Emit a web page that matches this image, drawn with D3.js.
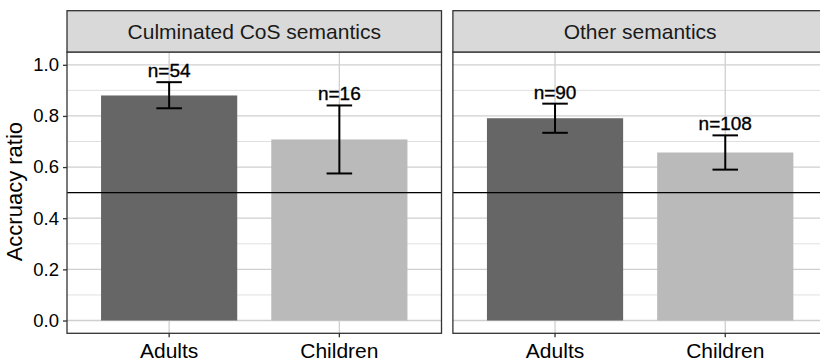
<!DOCTYPE html>
<html>
<head>
<meta charset="utf-8">
<script src="https://cdn.jsdelivr.net/npm/d3@7"></script>
<style>
  body { margin: 0; background: #fff; }
  text { font-family: "Liberation Sans", Arial, sans-serif; }
</style>
</head>
<body>
<div id="chart"></div>
<script>
const facets = ['Culminated CoS semantics', 'Other semantics'];
const groups = ['Adults', 'Children'];
const means  = [[0.880, 0.708], [0.791, 0.657]];
const upper  = [[0.932, 0.841], [0.848, 0.724]];
const lower  = [[0.830, 0.575], [0.734, 0.590]];
const counts = [[54, 16], [90, 108]];
const yTicks = [0, 0.2, 0.4, 0.6, 0.8, 1.0];
const yMinor = [0.1, 0.3, 0.5, 0.7, 0.9];
const refLine = 0.5;

const width = 820, height = 363;
const panelW = 374.5, panelGap = 11.4;
const panelLeft = 67, stripTop = 10.7, stripH = 41.3;
const panelTop = stripTop + stripH, panelBottom = 333.3;
const fills = { Adults: '#666666', Children: '#bababa' };

const svg = d3.select('#chart').append('svg')
  .attr('width', width)
  .attr('height', height);

const y = d3.scaleLinear()
  .domain([-0.05, 1.05])
  .range([panelBottom, panelTop]);

facets.forEach((facet, f) => {
  const x0 = panelLeft + f * (panelW + panelGap);
  const x = d3.scaleBand()
    .domain(groups)
    .range([x0, x0 + panelW])
    .padding(0.2);

  const g = svg.append('g');

  // minor + major grid
  g.selectAll('.minor')
    .data(yMinor)
    .enter().append('line')
    .attr('x1', x0).attr('x2', x0 + panelW)
    .attr('y1', d => y(d)).attr('y2', d => y(d))
    .attr('stroke', '#dcdcdc')
    .attr('stroke-width', 0.9);

  g.selectAll('.major')
    .data(yTicks)
    .enter().append('line')
    .attr('x1', x0).attr('x2', x0 + panelW)
    .attr('y1', d => y(d)).attr('y2', d => y(d))
    .attr('stroke', '#cfcfcf')
    .attr('stroke-width', 1.3);

  g.selectAll('.vmajor')
    .data(groups)
    .enter().append('line')
    .attr('x1', d => x(d) + x.bandwidth() / 2)
    .attr('x2', d => x(d) + x.bandwidth() / 2)
    .attr('y1', panelTop).attr('y2', panelBottom)
    .attr('stroke', '#cfcfcf')
    .attr('stroke-width', 1.3);

  // bars
  g.selectAll('.bar')
    .data(groups)
    .enter().append('rect')
    .attr('x', d => x(d))
    .attr('width', x.bandwidth())
    .attr('y', (d, i) => y(means[f][i]))
    .attr('height', (d, i) => y(0) - y(means[f][i]))
    .attr('fill', d => fills[d]);

  // reference line
  g.append('line')
    .attr('x1', x0).attr('x2', x0 + panelW)
    .attr('y1', y(refLine)).attr('y2', y(refLine))
    .attr('stroke', '#000')
    .attr('stroke-width', 1.4);

  // error bars
  const capW = x.step() * 0.15;
  groups.forEach((grp, i) => {
    const cx = x(grp) + x.bandwidth() / 2;
    const eb = g.append('g').attr('stroke', '#000').attr('stroke-width', 2);
    eb.append('line')
      .attr('x1', cx).attr('x2', cx)
      .attr('y1', y(upper[f][i])).attr('y2', y(lower[f][i]));
    [upper[f][i], lower[f][i]].forEach(v => {
      eb.append('line')
        .attr('x1', cx - capW / 2).attr('x2', cx + capW / 2)
        .attr('y1', y(v)).attr('y2', y(v));
    });

    g.append('text')
      .attr('x', cx)
      .attr('y', y(upper[f][i]) - 5)
      .attr('text-anchor', 'middle')
      .attr('font-size', '19px')
      .attr('fill', '#000')
      .attr('stroke', '#000')
      .attr('stroke-width', 0.35)
      .text(`n=${counts[f][i]}`);
  });

  // panel border
  g.append('rect')
    .attr('x', x0).attr('y', panelTop)
    .attr('width', panelW).attr('height', panelBottom - panelTop)
    .attr('fill', 'none')
    .attr('stroke', '#333333')
    .attr('stroke-width', 1.3);

  // strip
  g.append('rect')
    .attr('x', x0).attr('y', stripTop)
    .attr('width', panelW).attr('height', stripH)
    .attr('fill', '#d9d9d9')
    .attr('stroke', '#333333')
    .attr('stroke-width', 1.3);

  g.append('text')
    .attr('x', x0 + panelW / 2)
    .attr('y', stripTop + stripH / 2 + 7.5)
    .attr('text-anchor', 'middle')
    .attr('font-size', '21px')
    .attr('fill', '#1a1a1a')
    .text(facet);

  // x axis
  const xAxis = g.append('g')
    .attr('transform', `translate(0,${panelBottom})`)
    .call(d3.axisBottom(x).tickSize(4).tickPadding(6));
  xAxis.select('.domain').remove();
  xAxis.selectAll('line').attr('stroke', '#333333').attr('stroke-width', 1.3);
  xAxis.selectAll('text')
    .attr('font-size', '21px')
    .attr('fill', '#000')
    .attr('font-family', '"Liberation Sans", Arial, sans-serif');

  if (f === 0) {
    const yAxis = g.append('g')
      .attr('transform', `translate(${x0},0)`)
      .call(d3.axisLeft(y).tickValues(yTicks).tickFormat(d3.format('.1f')).tickSize(4).tickPadding(4));
    yAxis.select('.domain').remove();
    yAxis.selectAll('line').attr('stroke', '#333333').attr('stroke-width', 1.3);
    yAxis.selectAll('text')
      .attr('font-size', '18.5px')
      .attr('fill', '#000')
      .attr('font-family', '"Liberation Sans", Arial, sans-serif');
  }
});

svg.append('text')
  .attr('transform', `translate(22,${(panelTop + panelBottom) / 2 - 1}) rotate(-90)`)
  .attr('text-anchor', 'middle')
  .attr('font-size', '22px')
  .attr('fill', '#000')
  .text('Accruacy ratio');
</script>
</body>
</html>
